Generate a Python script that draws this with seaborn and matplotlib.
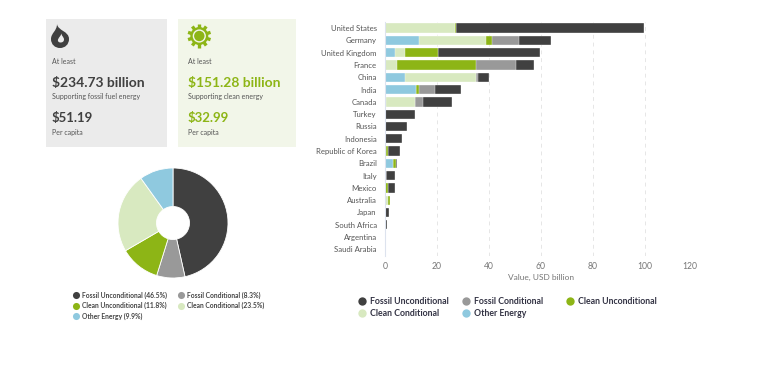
import numpy as np
import pandas as pd
import matplotlib
matplotlib.use("Agg")
import matplotlib.pyplot as plt
from matplotlib.patches import Rectangle, Circle, PathPatch
from matplotlib.path import Path
import seaborn as sns

countries = ["United States", "Germany", "United Kingdom", "France", "China", "India", "Canada",
             "Turkey", "Russia", "Indonesia", "Republic of Korea", "Brazil", "Italy", "Mexico",
             "Australia", "Japan", "South Africa", "Argentina", "Saudi Arabia"]
other_energy = [0, 13.1, 4.0, 0, 7.7, 12.0, 0.3, 0, 0, 0, 0, 3.2, 0, 0, 0, 0, 0, 0, 0]
clean_cond = [26.8, 25.9, 3.7, 4.6, 27.2, 0, 11.3, 0, 0, 0, 0.3, 0, 0.3, 0, 1.0, 0, 0, 0, 0]
clean_uncond = [0.5, 2.3, 12.7, 30.5, 0, 1.2, 0, 0, 0, 0, 0.9, 0.9, 0, 1.0, 0.8, 0, 0, 0, 0]
fossil_cond = [0, 10.3, 0, 15.3, 1.0, 6.0, 3.2, 0, 0, 0, 0, 0, 0, 0, 0, 0, 0, 0, 0]
fossil_uncond = [72.4, 12.4, 39.2, 6.9, 4.2, 10.1, 11.0, 11.5, 8.3, 6.7, 4.7, 0.5, 3.7, 2.7, 0, 1.5, 0.6, 0, 0]

share_labels = ["Fossil Unconditional", "Fossil Conditional", "Clean Unconditional",
                "Clean Conditional", "Other Energy"]
share_values = [46.5, 8.3, 11.8, 23.5, 9.9]
x_ticks = [0, 20, 40, 60, 80, 100, 120]

DARK = "#404040"
GREY = "#999999"
GREEN = "#8DB516"
PALE = "#D8E9C0"
BLUE = "#8FC9DF"
colors = [DARK, GREY, GREEN, PALE, BLUE]

W, H = 768, 369
sns.set_theme(style="white")
plt.rcParams["font.family"] = ["Lato", "DejaVu Sans"]

fig = plt.figure(figsize=(W / 100, H / 100), dpi=100, facecolor="white")


def px_axes(left, top, right, bottom):
    return fig.add_axes([left / W, 1 - bottom / H, (right - left) / W, (bottom - top) / H])


# background layer in pixel coords, for the cards, icons and legends
bg = fig.add_axes([0, 0, 1, 1], zorder=0)
bg.set_xlim(0, W)
bg.set_ylim(H, 0)
bg.axis("off")

bg.add_patch(Rectangle((46, 19), 121, 128, fc="#EBEBEB", ec="none"))
bg.add_patch(Rectangle((178, 19), 118, 128, fc="#F2F6E9", ec="none"))


def card(x, color, amount, sub, per):
    bg.text(x, 62, "At least", fontsize=5.0, color="#555555", va="center")
    bg.text(x, 83, amount, fontsize=10, color=color, weight="bold", va="center")
    bg.text(x, 97, sub, fontsize=5.0, color="#555555", va="center")
    bg.text(x, 118, per, fontsize=9.5, color=color, weight="bold", va="center")
    bg.text(x, 132, "Per capita", fontsize=5.0, color="#555555", va="center")


card(51.5, DARK, "$234.73 billion", "Supporting fossil fuel energy", "$51.19")
card(188, GREEN, "$151.28 billion", "Supporting clean energy", "$32.99")

# flame icon
C4, M, Z = Path.CURVE4, Path.MOVETO, Path.CLOSEPOLY
flame = Path(
    [(57, 24), (58, 31), (69, 31), (69, 39), (69, 44.5), (65, 48), (60, 48), (55, 48), (51, 44.5), (51, 39),
     (51, 33), (57, 31), (57, 24), (57, 24)],
    [M, C4, C4, C4, C4, C4, C4, C4, C4, C4, C4, C4, C4, Z])
bg.add_patch(PathPatch(flame, fc=DARK, ec="none"))
hole = Path(
    [(61.5, 33), (61, 35.5), (64, 37), (64, 39.5), (64, 41.5), (62.5, 42.5), (60.5, 42.5),
     (58.5, 42.5), (57.5, 41), (58, 39.5), (59, 37), (61, 36), (61.5, 33), (61.5, 33)],
    [M, C4, C4, C4, C4, C4, C4, C4, C4, C4, C4, C4, C4, Z])
bg.add_patch(PathPatch(hole, fc="#EBEBEB", ec="none"))

# sun icon
sun_x, sun_y = 199.3, 36
for ang in np.arange(0, 360, 36):
    a = np.radians(ang + 18)
    bg.plot([sun_x + 7 * np.cos(a), sun_x + 11.8 * np.cos(a)], [sun_y + 7 * np.sin(a), sun_y + 11.8 * np.sin(a)],
            color=GREEN, lw=2.4, solid_capstyle="butt")
bg.add_patch(Circle((sun_x, sun_y), 9, fc=GREEN, ec="none", zorder=3))
bg.add_patch(Circle((sun_x, sun_y), 6.6, fc="#F2F6E9", ec="none", zorder=3))
bg.add_patch(Circle((sun_x, sun_y), 5.2, fc=GREEN, ec="none", zorder=3))

# donut
ax_pie = px_axes(113, 163, 233, 283)
ax_pie.pie(share_values, colors=colors, startangle=90, counterclock=False, radius=1,
           wedgeprops=dict(width=0.7, edgecolor="white", linewidth=0.6))
ax_pie.set_xlim(-60 / 55, 60 / 55)
ax_pie.set_ylim(-60 / 55, 60 / 55)

pie_slots = [(75.7, 295), (180.7, 295), (75.7, 305.5), (180.7, 305.5), (75.7, 316)]
for (x, y), name, val, c in zip(pie_slots, share_labels, share_values, colors):
    bg.scatter([x], [y], s=26, color=c, linewidths=0)
    bg.text(x + 6.5, y, f"{name} ({val}%)", fontsize=4.9, weight="bold", color="#444444", va="center")

bar_slots = [(361.7, 301), (465.7, 301), (570, 301), (361.7, 313), (465.7, 313)]
for (x, y), name, c in zip(bar_slots, share_labels, colors):
    bg.scatter([x], [y], s=36, color=c, linewidths=0)
    bg.text(x + 8.5, y, name, fontsize=6.3, weight="bold", color="#333344", va="center")

# stacked bars, drawn longest first so each shorter total sits on top
df = pd.DataFrame({"country": countries, "Other Energy": other_energy, "Clean Conditional": clean_cond,
                   "Clean Unconditional": clean_uncond, "Fossil Conditional": fossil_cond,
                   "Fossil Unconditional": fossil_uncond})
stack = ["Other Energy", "Clean Conditional", "Clean Unconditional", "Fossil Conditional", "Fossil Unconditional"]
totals = df[stack].cumsum(axis=1)

ax = px_axes(385, 22, 697, 255.5)
for name, c in zip(stack[::-1], colors):
    sns.barplot(x=totals[name], y=df["country"], color=c, saturation=1, width=0.76, ax=ax,
                edgecolor="white", linewidth=0.25, errorbar=None)

ax.set_xlim(0, 120)
ax.set_xticks(x_ticks)
ax.set_xlabel("Value, USD billion", fontsize=6.0, color="#777777", labelpad=2)
ax.set_ylabel("")
ax.tick_params(axis="x", labelsize=6.2, labelcolor="#777777", length=0, pad=5)
ax.tick_params(axis="y", labelsize=5.6, labelcolor="#555555", length=0, pad=6)
ax.get_xticklabels()[-1].set_ha("right")
ax.xaxis.grid(True, ls=(0, (4, 4)), color="#E6E6E6", lw=0.7)
ax.set_axisbelow(True)
sns.despine(ax=ax, top=True, right=True, bottom=True, left=False)
ax.spines["left"].set_color("#DDE3EE")
ax.spines["left"].set_linewidth(0.8)
ax.patch.set_alpha(0)

fig.savefig("out.png", dpi=100)
